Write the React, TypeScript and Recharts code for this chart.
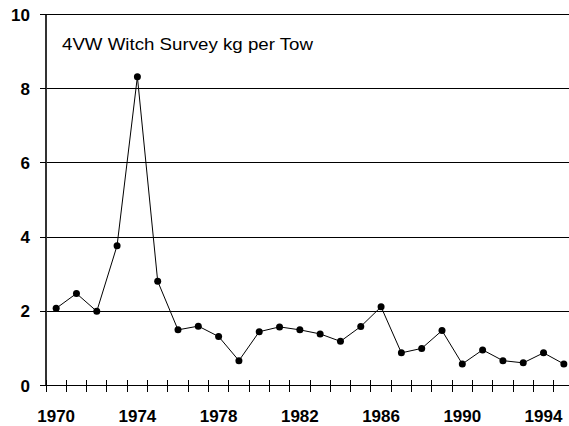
import React from "react";
import { LineChart, Line, XAxis, YAxis, CartesianGrid } from "recharts";

const years: number[] = [
  1970, 1971, 1972, 1973, 1974, 1975, 1976, 1977, 1978, 1979, 1980, 1981, 1982,
  1983, 1984, 1985, 1986, 1987, 1988, 1989, 1990, 1991, 1992, 1993, 1994, 1995,
];
const kgPerTow: number[] = [
  2.08, 2.48, 2.0, 3.77, 8.32, 2.81, 1.5, 1.6, 1.32, 0.67, 1.45, 1.58, 1.5,
  1.39, 1.19, 1.59, 2.12, 0.88, 1.0, 1.48, 0.58, 0.96, 0.67, 0.61, 0.88, 0.58,
];
const yearLabels: number[] = [1970, 1974, 1978, 1982, 1986, 1990, 1994];
const yTicks: number[] = [0, 2, 4, 6, 8, 10];

const data = years.map((year, i) => ({ year, value: kgPerTow[i] }));

// tick marks sit on year boundaries, labels under the points
const xTicks: number[] = [];
years.forEach((y) => {
  xTicks.push(y - 0.5);
  if (yearLabels.includes(y)) xTicks.push(y);
});
xTicks.push(years[years.length - 1] + 0.5);

const FONT = "'Liberation Sans', Arial, sans-serif";

const XTick = ({ x, y, payload }: any) => {
  const v = payload.value;
  if (!Number.isInteger(v)) {
    return <line x1={x} x2={x} y1={y - 6} y2={y + 6} stroke="#000" strokeWidth={1} shapeRendering="crispEdges" />;
  }
  return (
    <text x={x} y={y + 36} textAnchor="middle" fontFamily={FONT} fontSize={17} fontWeight={700} fill="#000">
      {v}
    </text>
  );
};

const YTick = ({ x, y, payload }: any) => (
  <text x={x} y={y + 6} textAnchor="end" fontFamily={FONT} fontSize={17} fontWeight={700} fill="#000">
    {payload.value}
  </text>
);

const App = () => {
  return (
    <div style={{ position: "absolute", left: 0, top: 0, width: 569, height: 426, overflow: "hidden", background: "#fff" }}>
      <style>{".recharts-cartesian-grid line, .recharts-cartesian-axis-line, .recharts-cartesian-axis-tick-line { shape-rendering: crispEdges; }"}</style>
      <LineChart width={574} height={426} data={data} margin={{ top: 14.5, right: 0, bottom: 0, left: 0 }}>
        <CartesianGrid horizontal vertical={false} stroke="#000" strokeWidth={1} horizontalValues={[2, 4, 6, 8, 10]} />
        <XAxis
          dataKey="year"
          type="number"
          domain={[1969.5, 1995.5]}
          ticks={xTicks}
          interval={0}
          tick={<XTick />}
          tickLine={false}
          tickSize={0}
          tickMargin={0}
          height={40.5}
          axisLine={{ stroke: "#000", strokeWidth: 1 }}
          allowDecimals
        />
        <YAxis
          type="number"
          domain={[0, 10]}
          ticks={yTicks}
          interval={0}
          width={46}
          tickSize={6}
          tickMargin={10}
          tickLine={{ stroke: "#000" }}
          axisLine={{ stroke: "#333", strokeWidth: 2 }}
          tick={<YTick />}
        />
        <Line
          type="linear"
          dataKey="value"
          stroke="#000"
          strokeWidth={1}
          dot={{ r: 3.5, fill: "#000", stroke: "#000", strokeWidth: 0 }}
          isAnimationActive={false}
        />
        <text x={62} y={49.5} fontFamily={FONT} fontSize={17} fill="#000" textLength={251} lengthAdjust="spacingAndGlyphs">
          4VW Witch Survey kg per Tow
        </text>
      </LineChart>
    </div>
  );
};

export default App;
